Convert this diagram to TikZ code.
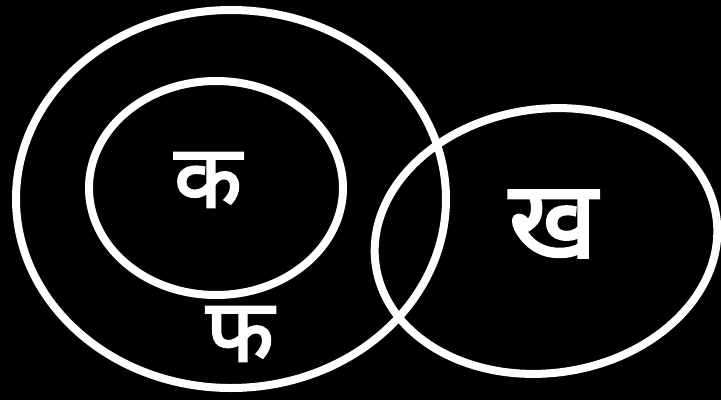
\documentclass[tikz,border=0pt]{standalone}
\usepackage{fontspec}
\newfontfamily\devfont[Script=Devanagari,FakeBold=2.5]{Noto Sans}
\begin{document}
\begin{tikzpicture}[x=1pt,y=-1pt,
  ring/.style={draw=white,line width=8pt},
  letter/.style={text=white,inner sep=0pt}]
\fill[black] (0,0) rectangle (721,400);
\useasboundingbox (0,0) rectangle (721,400);
\draw[ring] (231,199) ellipse [x radius=215, y radius=189];
\draw[ring] (216,188) ellipse [x radius=127, y radius=107];
\draw[ring,rotate around={8:(546,241)}] (546,241) ellipse [x radius=172, y radius=132];
\node[letter,font=\devfont\fontsize{88}{88}\selectfont] (ka) at (208,180) {क};
\node[letter,font=\devfont\fontsize{108}{108}\selectfont] (kha) at (553,224) {ख};
\node[letter,font=\devfont\fontsize{88}{88}\selectfont] (pha) at (240,334) {फ};
\end{tikzpicture}
\end{document}
